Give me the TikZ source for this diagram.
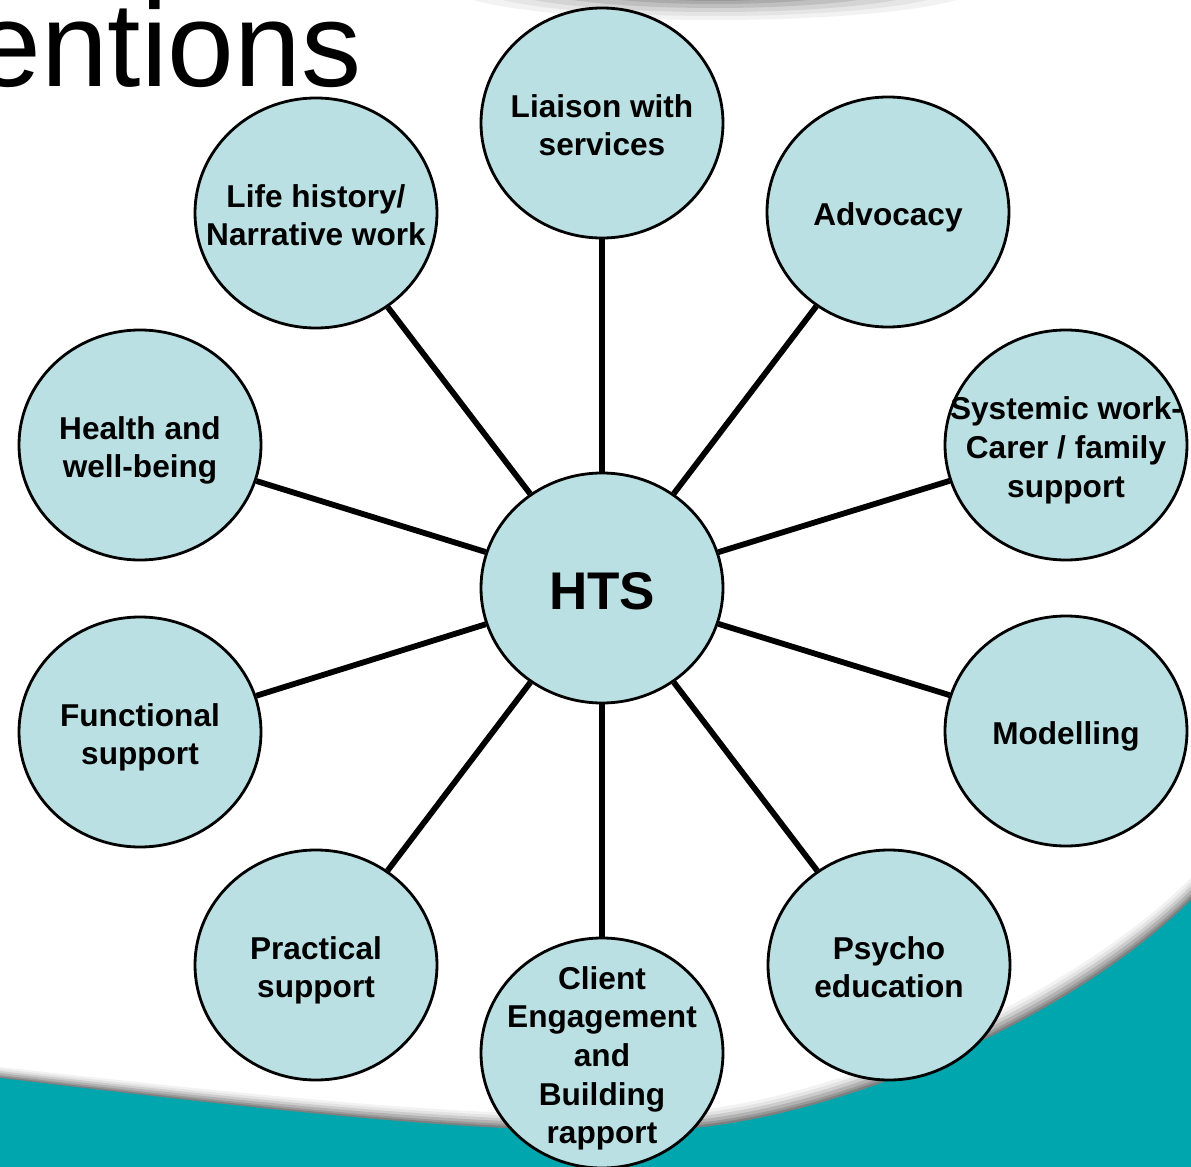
\documentclass[tikz,border=0pt]{standalone}
\usepackage{fontspec}
\setmainfont{Liberation Sans}
\usetikzlibrary{shapes.geometric}
\definecolor{circfill}{RGB}{186,224,227}
\definecolor{tealbg}{RGB}{0,166,173}
\newcommand\bubtext[1]{\makebox[0pt]{\smash{\raisebox{-0.5\height}{\begin{tabular}[b]{@{}c@{}}#1\end{tabular}}}}}
\newcommand\wavefill[2]{\fill[#2] (0,1078-0.5*#1) .. controls (250,1108-0.6*#1) and (480,1135-0.7*#1) .. (640,1130-0.75*#1) .. controls (800,1135-0.85*#1) and (1060,1030-#1) .. (1191,900-#1) -- (1191,1167) -- (0,1167) -- cycle;}
\tikzset{
  bubble/.style={ellipse, draw=black, line width=1.4pt, fill=circfill,
    minimum width=121pt, minimum height=115pt, inner sep=0pt,
    font=\bfseries\fontsize{15.8}{19.3}\selectfont},
  hub/.style={bubble, font=\bfseries\fontsize{26.5}{30}\selectfont},
  conn/.style={line width=2.9pt, draw=black},
  titletext/.style={inner sep=0pt, anchor=base west, font=\fontsize{60}{72}\selectfont},
}
\begin{document}
\begin{tikzpicture}[x=0.5pt, y=-0.5pt]
\useasboundingbox (0,0) rectangle (1191,1167);
\clip (0,0) rectangle (1191,1167);
\fill[white] (0,0) rectangle (1191,1167);
% top shadow
\fill[black!5]  (715,-14) ellipse [x radius=265, y radius=34];
\fill[black!10] (715,-14) ellipse [x radius=240, y radius=30];
\fill[black!17] (715,-14) ellipse [x radius=215, y radius=26];
\fill[black!25] (715,-14) ellipse [x radius=185, y radius=22];
\fill[black!33] (715,-14) ellipse [x radius=150, y radius=18];
\fill[black!40] (715,-14) ellipse [x radius=110, y radius=15];
% bottom wave with shadow
\wavefill{22}{black!5}
\wavefill{18}{black!11}
\wavefill{14}{black!20}
\wavefill{10}{black!30}
\wavefill{6}{black!40}
\wavefill{3}{black!50}
\wavefill{0}{tealbg}
% title fragment
\node[titletext] (title) at (-26,86) {entions};
% nodes
\node[hub] (hts) at (602,588) {\bubtext{HTS}};
\node[bubble] (liaison) at (602,123) {\bubtext{Liaison with\\services}};
\node[bubble] (advocacy) at (888,212) {\bubtext{Advocacy}};
\node[bubble] (systemic) at (1066,445) {\bubtext{Systemic work-\\Carer / family\\support}};
\node[bubble] (modelling) at (1066,731) {\bubtext{Modelling}};
\node[bubble] (psycho) at (889,965) {\bubtext{Psycho\\education}};
\node[bubble] (client) at (602,1053) {\bubtext{Client\\Engagement\\and\\Building\\rapport}};
\node[bubble] (practical) at (316,965) {\bubtext{Practical\\support}};
\node[bubble] (functional) at (140,732) {\bubtext{Functional\\support}};
\node[bubble] (health) at (140,445) {\bubtext{Health and\\well-being}};
\node[bubble] (life) at (316,213) {\bubtext{Life history/\\Narrative work}};
% connectors
\foreach \n in {liaison,advocacy,systemic,modelling,psycho,client,practical,functional,health,life}
  \draw[conn] (hts) -- (\n);
\end{tikzpicture}
\end{document}
